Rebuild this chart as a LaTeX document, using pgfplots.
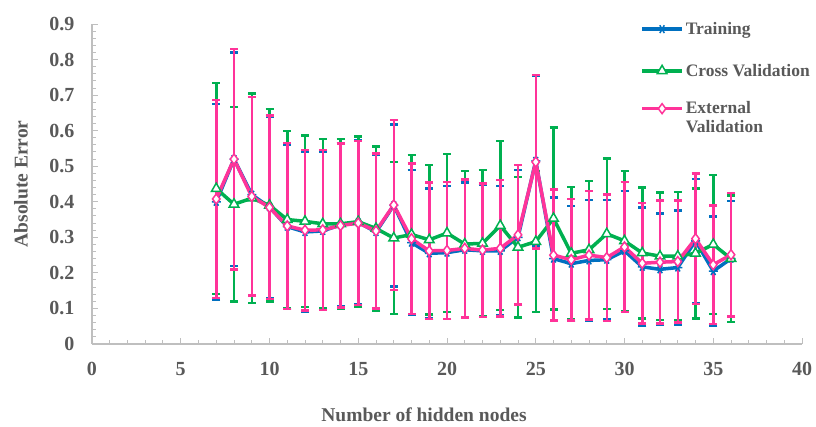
\documentclass[border=0pt]{standalone}
\usepackage{fontspec}
\setmainfont{Liberation Serif}
\usepackage{pgfplots}
\pgfplotsset{compat=1.18}
\usepackage{pgfplotstable}
\definecolor{cTr}{HTML}{0070C0}
\definecolor{cCv}{HTML}{00B050}
\definecolor{cEx}{HTML}{FF3399}
\definecolor{cTxt}{HTML}{595959}
\definecolor{cAx}{HTML}{BFBFBF}
\pgfplotstableread{
x  tr     tre    cv     cve    ex     exe
7  0.400  0.275  0.437  0.297  0.408  0.278
8  0.520  0.300  0.393  0.274  0.520  0.310
9  0.420  0.283  0.410  0.294  0.415  0.279
10 0.385  0.255  0.390  0.271  0.384  0.258
11 0.330  0.230  0.350  0.249  0.332  0.233
12 0.315  0.225  0.345  0.241  0.320  0.226
13 0.318  0.222  0.338  0.238  0.321  0.225
14 0.335  0.230  0.338  0.239  0.333  0.231
15 0.342  0.230  0.344  0.239  0.340  0.231
16 0.315  0.218  0.325  0.231  0.318  0.218
17 0.390  0.228  0.298  0.214  0.391  0.239
18 0.285  0.204  0.308  0.223  0.296  0.212
19 0.255  0.183  0.293  0.210  0.262  0.192
20 0.257  0.187  0.312  0.222  0.263  0.193
21 0.265  0.189  0.281  0.205  0.269  0.194
22 0.262  0.185  0.283  0.206  0.264  0.188
23 0.262  0.182  0.333  0.238  0.269  0.192
24 0.300  0.190  0.272  0.197  0.307  0.196
25 0.515  0.240  0.288  0.198  0.512  0.244
26 0.240  0.172  0.353  0.256  0.250  0.184
27 0.226  0.162  0.255  0.186  0.237  0.171
28 0.235  0.170  0.265  0.194  0.250  0.181
29 0.237  0.168  0.310  0.212  0.243  0.178
30 0.262  0.169  0.290  0.197  0.273  0.183
31 0.217  0.167  0.256  0.184  0.227  0.169
32 0.210  0.157  0.247  0.179  0.230  0.173
33 0.215  0.160  0.247  0.181  0.232  0.171
34 0.290  0.174  0.255  0.183  0.296  0.184
35 0.205  0.153  0.280  0.196  0.223  0.167
36 0.240  0.162  0.240  0.178  0.251  0.174
}\datatable
\begin{document}
\begin{tikzpicture}
\path[use as bounding box] (-92pt,-83pt) rectangle (724pt,344pt);
\begin{axis}[
  at={(0pt,0pt)}, anchor=south west,
  scale only axis, width=710pt, height=320pt,
  xmin=0, xmax=40, ymin=0, ymax=0.9,
  axis lines*=left,
  axis line style={draw=cAx, line width=1.2pt, -},
  xtick={0,5,...,40}, ytick={0,0.1,...,0.9},
  minor x tick num=4, minor y tick num=4,
  tick align=inside,
  major tick length=6pt, minor tick length=4pt,
  tick style={draw=cAx, line width=1pt},
  /pgf/number format/assume math mode=true,
  yticklabel style={/pgf/number format/fixed, /pgf/number format/precision=1},
  tick label style={font=\bfseries\fontsize{20}{22}\selectfont, text=cTxt},
  xticklabel style={yshift=-15pt},
  yticklabel style={xshift=-14pt},
  xlabel={Number of hidden nodes},
  ylabel={Absolute Error},
  label style={font=\bfseries\fontsize{19.5}{22}\selectfont, text=cTxt},
  xlabel style={at={(axis description cs:0.4676,0)}, anchor=center, yshift=-71pt},
  ylabel style={at={(axis description cs:0,0.5)}, anchor=center, yshift=71pt},
  legend style={draw=none, fill=none, at={(rel axis cs:0.772,1.012)}, anchor=north west,
    font=\bfseries\fontsize{17.5}{19}\selectfont, text=cTxt, row sep=24pt, inner sep=0pt,
    cells={anchor=west}},
  legend cell align=left,
  legend image code/.code={\draw[mark repeat=2, mark phase=2] plot coordinates {(0pt,0pt) (20pt,0pt) (40pt,0pt)};},
  error bars/y dir=both, error bars/y explicit,
  error bars/error mark=-,
  every axis plot/.append style={line width=3.5pt},
]
\addplot[color=cTr, mark=asterisk, mark options={rotate=90, mark size=4.5pt, line width=1.5pt, solid},
  error bars/error bar style={line width=2.5pt, color=cTr},
  error bars/error mark options={rotate=90, line width=2.5pt, mark size=4pt, color=cTr}]
  table[x=x, y=tr, y error=tre] {\datatable};
\addlegendentry{Training}
\addplot[color=cCv, mark=triangle*, mark options={fill=white, mark size=5.5pt, line width=1.5pt, solid},
  error bars/error bar style={line width=2.5pt, color=cCv},
  error bars/error mark options={rotate=90, line width=2.5pt, mark size=4pt, color=cCv}]
  table[x=x, y=cv, y error=cve] {\datatable};
\addlegendentry{Cross Validation}
\addplot[color=cEx, mark=diamond*, mark options={fill=white, mark size=5pt, line width=1.5pt, solid},
  error bars/error bar style={line width=2.5pt, color=cEx},
  error bars/error mark options={rotate=90, line width=2.5pt, mark size=4pt, color=cEx}]
  table[x=x, y=ex, y error=exe] {\datatable};
\addlegendentry{\smash{\raisebox{-6pt}{\vtop{\hbox{External}\hbox{Validation}}}}}
\end{axis}
\end{tikzpicture}
\end{document}
